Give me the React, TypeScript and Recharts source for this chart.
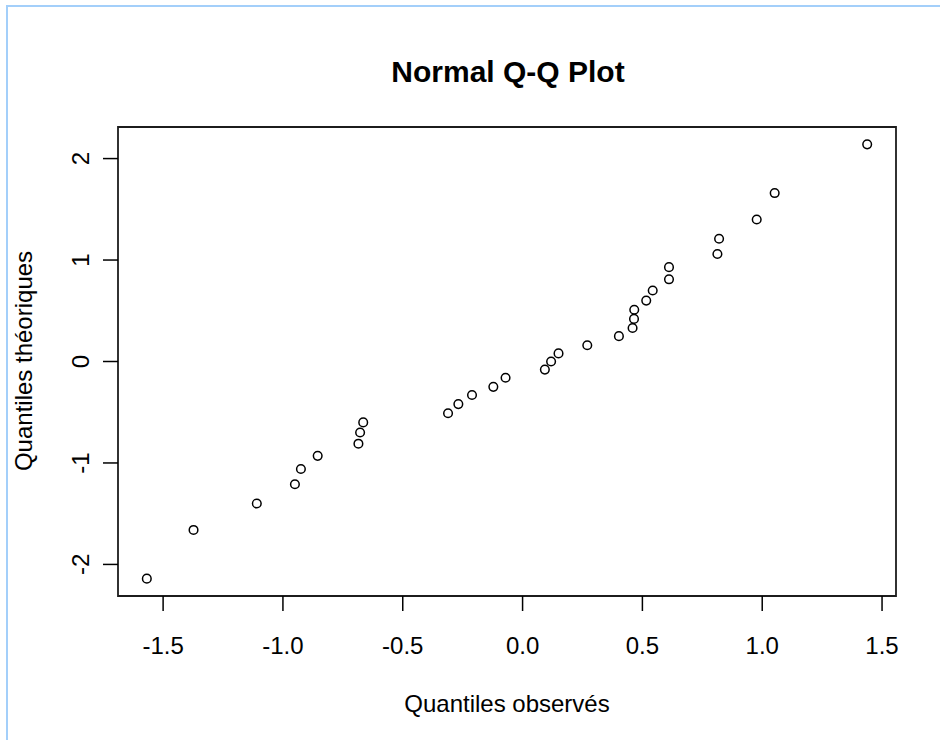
import React from "react";
import {
  ScatterChart,
  Scatter,
  XAxis,
  YAxis,
  ReferenceArea,
} from "recharts";

const observed = [
  -1.568, -1.373, -1.109, -0.95, -0.925, -0.855, -0.685, -0.678, -0.665,
  -0.311, -0.268, -0.211, -0.122, -0.071, 0.093, 0.119, 0.15, 0.27, 0.402,
  0.459, 0.465, 0.466, 0.516, 0.543, 0.611, 0.611, 0.813, 0.82, 0.977, 1.052,
  1.438,
];

// theoretical normal quantiles
const theoretical = [
  -2.14, -1.66, -1.4, -1.21, -1.06, -0.93, -0.81, -0.7, -0.6, -0.51, -0.42,
  -0.33, -0.25, -0.16, -0.08, 0, 0.08, 0.16, 0.25, 0.33, 0.42, 0.51, 0.6, 0.7,
  0.81, 0.93, 1.06, 1.21, 1.4, 1.66, 2.14,
];

const xTicks = [-1.5, -1.0, -0.5, 0.0, 0.5, 1.0, 1.5];
const yTicks = [-2, -1, 0, 1, 2];

const FONT = "'Liberation Sans', Arial, Helvetica, sans-serif";

/** R-style 4% range extension */
function extend(values: number[]): [number, number] {
  const lo = Math.min(...values);
  const hi = Math.max(...values);
  const pad = (hi - lo) * 0.04;
  return [lo - pad, hi + pad];
}

const xDomain = extend(observed);
const yDomain = extend(theoretical);

const data = observed.map((x, i) => ({ x, y: theoretical[i] }));

const Ring = (props: any) => (
  <circle
    cx={props.cx}
    cy={props.cy}
    r={4.3}
    fill="none"
    stroke="#000"
    strokeWidth={1.5}
  />
);

// y labels are drawn parallel to the axis, as R does by default
const YTick = (props: any) => {
  const { x, y, payload } = props;
  return (
    <text
      x={x}
      y={y}
      transform={`rotate(-90 ${x} ${y})`}
      textAnchor="middle"
      fontSize={24}
      fontFamily={FONT}
      fill="#000"
    >
      {payload.value}
    </text>
  );
};

export default function App() {
  return (
    <div
      style={{
        position: "absolute",
        left: 0,
        top: 0,
        width: 940,
        height: 740,
        background: "#fff",
        overflow: "hidden",
      }}
    >
      <div
        style={{
          position: "absolute",
          left: 6,
          top: 5,
          width: 960,
          height: 760,
          borderTop: "2px solid #a3cffa",
          borderLeft: "2px solid #a3cffa",
        }}
      />
      <ScatterChart
        width={940}
        height={740}
        margin={{ top: 127, right: 44, bottom: 0, left: 0 }}
      >
        <XAxis
          type="number"
          dataKey="x"
          domain={xDomain}
          ticks={xTicks}
          allowDataOverflow
          height={144}
          axisLine={false}
          tickSize={15}
          tickMargin={26}
          tickLine={{ stroke: "#000", strokeWidth: 1.5 }}
          tickFormatter={(v: number) => v.toFixed(1)}
          tick={{ fontSize: 24, fill: "#000", fontFamily: FONT }}
        />
        <YAxis
          type="number"
          dataKey="y"
          domain={yDomain}
          ticks={yTicks}
          allowDataOverflow
          width={118}
          axisLine={false}
          tickSize={15}
          tickMargin={14}
          tickLine={{ stroke: "#000", strokeWidth: 1.5 }}
          tick={<YTick />}
        />
        <ReferenceArea
          x1={xDomain[0]}
          x2={xDomain[1]}
          y1={yDomain[0]}
          y2={yDomain[1]}
          fill="none"
          fillOpacity={0}
          stroke="#1c1c1c"
          strokeWidth={1.8}
          ifOverflow="visible"
        />
        <Scatter data={data} shape={<Ring />} isAnimationActive={false} />
      </ScatterChart>
      <svg
        width={940}
        height={740}
        style={{ position: "absolute", left: 0, top: 0, pointerEvents: "none" }}
      >
        <text
          x={508}
          y={82}
          textAnchor="middle"
          fontSize={30}
          fontWeight="bold"
          fontFamily={FONT}
          fill="#000"
        >
          Normal Q-Q Plot
        </text>
        <text
          x={507}
          y={712}
          textAnchor="middle"
          fontSize={24}
          fontFamily={FONT}
          fill="#000"
        >
          Quantiles observés
        </text>
        <text
          x={32}
          y={361}
          transform="rotate(-90 32 361)"
          textAnchor="middle"
          fontSize={24}
          fontFamily={FONT}
          fill="#000"
        >
          Quantiles théoriques
        </text>
      </svg>
    </div>
  );
}
